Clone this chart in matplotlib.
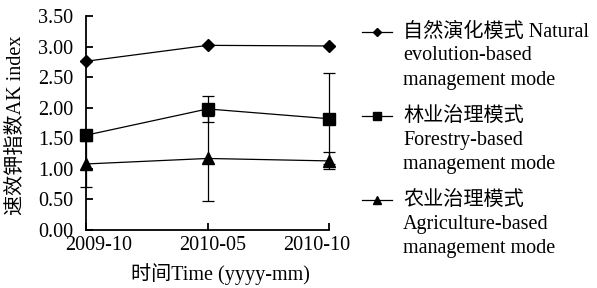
import matplotlib
matplotlib.use("Agg")
import matplotlib.pyplot as plt
from matplotlib.lines import Line2D
from matplotlib.transforms import ScaledTranslation

plt.rcParams['font.family'] = ['Liberation Serif', 'Noto Sans CJK SC']

dates = ["2009-10", "2010-05", "2010-10"]
natural = [2.76, 3.02, 3.01]
natural_err = [0.0, 0.0, 0.0]
forestry = [1.55, 1.98, 1.82]
forestry_err = [0.0, 0.21, 0.74]
agriculture = [1.08, 1.17, 1.13]
agriculture_err = [0.38, 0.70, 0.14]
yticks = [0.0, 0.5, 1.0, 1.5, 2.0, 2.5, 3.0, 3.5]
labels = ["自然演化模式 Natural\nevolution-based\nmanagement mode",
          "林业治理模式\nForestry-based\nmanagement mode",
          "农业治理模式\nAgriculture-based\nmanagement mode"]
markers = ["D", "s", "^"]
msizes = [6.0, 8.4, 8.2]

FS = 14.5
fig = plt.figure(figsize=(5.97, 2.88), dpi=100)
ax = fig.add_axes([86/597, 1-230/288, (329-86)/597, (230-16)/288])
x = list(range(len(dates)))
series = [(natural, natural_err), (forestry, forestry_err), (agriculture, agriculture_err)]
for (vals, err), m, ms in zip(series, markers, msizes):
    ax.errorbar(x, vals, yerr=err, color='black', marker=m, markersize=ms,
                linewidth=0.9, elinewidth=0.9, capsize=4, capthick=0.9, clip_on=False, zorder=3)

ax.set_xlim(0, 2)
ax.set_ylim(0, 3.5)
ax.set_xticks(x)
ax.set_xticklabels(dates, fontsize=FS)
ax.set_yticks(yticks)
ax.set_yticklabels([f"{v:.2f}" for v in yticks], fontsize=FS)
ax.tick_params(direction='in', length=5, width=1.3)
ax.tick_params(axis='y', pad=9)
ax.tick_params(axis='x', pad=4)
shifts = [13, 5, -12]
for lbl, s in zip(ax.get_xticklabels(), shifts):
    lbl.set_transform(lbl.get_transform() + ScaledTranslation(s/100, 0, fig.dpi_scale_trans))
for s in ['top', 'right']:
    ax.spines[s].set_visible(False)
for s in ['left', 'bottom']:
    ax.spines[s].set_linewidth(1.3)
ax.set_xlabel("时间Time (yyyy-mm)", fontsize=FS)
ax.xaxis.label.set_va('center')
ax.xaxis.set_label_coords((220-86)/243, (230-274)/214)
ax.set_ylabel("速效钾指数AK index", fontsize=FS)
ax.yaxis.label.set_va('center')
ax.yaxis.set_label_coords((16.5-86)/243, (230-125)/214)

leg_y = [32, 116, 200]
for lab, m, ms, y in zip(labels, markers, msizes, leg_y):
    fy = 1 - y/288
    fig.add_artist(Line2D([362/597, 377/597, 392/597], [fy, fy, fy], color='black',
                          linewidth=0.9, marker=m, markersize=ms*0.75, markevery=[1],
                          transform=fig.transFigure))
    for i, line in enumerate(lab.split("\n")):
        fig.text(403/597, 1 - (y + 24*i)/288, line, fontsize=FS, va='center', ha='left')

fig.savefig("out.png", dpi=100, facecolor='white')
